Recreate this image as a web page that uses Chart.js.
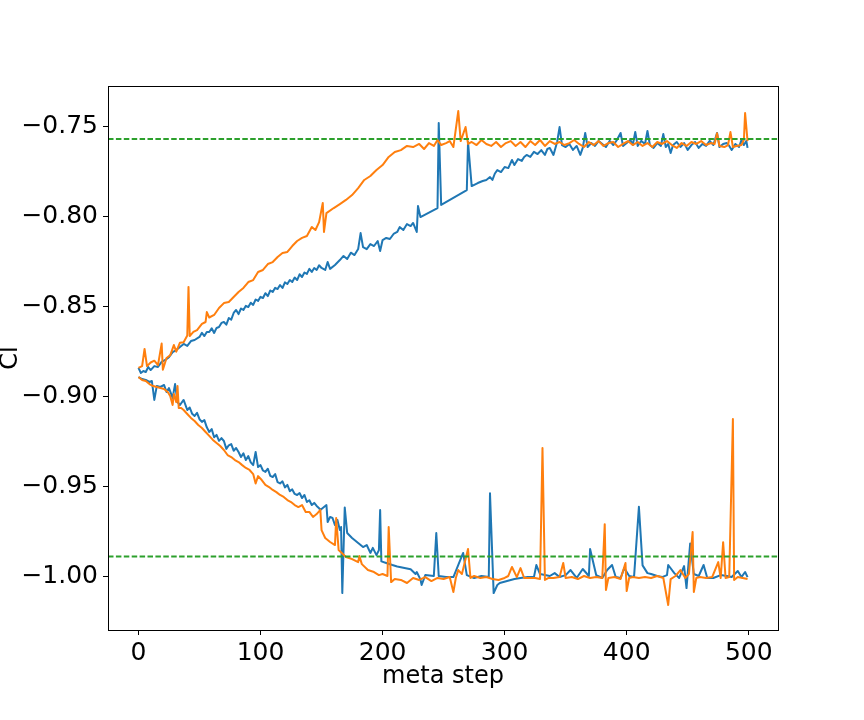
<!DOCTYPE html>
<html>
<head>
<meta charset="utf-8">
<script src="https://cdn.jsdelivr.net/npm/chart.js@4"></script>
<style>
html,body{margin:0;padding:0;background:#fff;}
#wrap{width:864px;height:720px;position:relative;}
</style>
</head>
<body>
<div id="wrap"><canvas id="c" width="864" height="720"></canvas></div>
<script>
// ---- data ----
const xTicks = [0, 100, 200, 300, 400, 500];
const yTicks = [-1.00, -0.95, -0.90, -0.85, -0.80, -0.75];
const refUpper = -0.7569;
const refLower = -0.9888;

const stepsBlueUp = [0,2,4,6,8,10,13,16,19,22,25,28,31,34,37,40,43,46,
  50,52,54,56,58,60,62,64,66,68,70,72,74,76,78,80,82,84,86,88,90,92,94,96,98,
  100,102,104,106,108,110,112,114,116,118,120,122,124,126,128,130,132,134,136,138,140,142,144,146,148,150,
  153,155,157,161,165,168,171,174,177,180,182,184,187,190,193,196,198,200,203,206,209,212,214,217,220,223,225,228,229,231,245,246,248,269,270,273,278,282,285,288,290,292,294,297,300,303,306,308,311,314,316,318,321,324,327,330,333,335,337,340,343,345,347,350,353,356,359,362,364,366,368,371,374,377,380,383,386,389,392,395,397,400,403,405,407,409,412,415,417,419,422,425,428,430,432,434,436,438,441,444,447,450,453,456,459,462,465,468,471,474,476,479,482,484,486,489,492,494,496,498,499];
const blueUp = [-0.8840,-0.8868,-0.8857,-0.8863,-0.8835,-0.8852,-0.8830,-0.8835,-0.8807,-0.8796,-0.8780,-0.8752,-0.8741,-0.8724,-0.8707,-0.8718,-0.8691,-0.8685,
  -0.8668,-0.8645,-0.8663,-0.8640,-0.8641,-0.8620,-0.8646,-0.8618,-0.8613,-0.8590,-0.8585,-0.8600,-0.8563,-0.8572,-0.8535,-0.8518,-0.8541,-0.8510,-0.8518,-0.8495,-0.8502,-0.8478,-0.8490,-0.8460,-0.8468,
  -0.8445,-0.8452,-0.8425,-0.8441,-0.8410,-0.8418,-0.8395,-0.8402,-0.8380,-0.8396,-0.8365,-0.8374,-0.8352,-0.8363,-0.8338,-0.8352,-0.8320,-0.8335,-0.8310,-0.8318,-0.8290,-0.8307,-0.8285,-0.8296,-0.8270,-0.8285,
  -0.8296,-0.8252,-0.8290,-0.8268,-0.8241,-0.8218,-0.8235,-0.8200,-0.8213,-0.8180,-0.8091,-0.8169,-0.8180,-0.8152,-0.8163,-0.8135,-0.8191,-0.8130,-0.8118,-0.8124,-0.8096,-0.8085,-0.8058,-0.8074,-0.8041,-0.8052,-0.8035,-0.8085,-0.7941,-0.8002,-0.7952,-0.7480,-0.7935,-0.7852,-0.7585,-0.7830,-0.7813,-0.7802,-0.7796,-0.7780,-0.7796,-0.7760,-0.7741,-0.7752,-0.7724,-0.7730,-0.7685,-0.7713,-0.7680,-0.7690,-0.7668,-0.7657,-0.7668,-0.7640,-0.7652,-0.7630,-0.7657,-0.7624,-0.7618,-0.7657,-0.7585,-0.7502,-0.7602,-0.7613,-0.7596,-0.7629,-0.7607,-0.7657,-0.7618,-0.7535,-0.7613,-0.7591,-0.7607,-0.7579,-0.7596,-0.7613,-0.7579,-0.7602,-0.7574,-0.7535,-0.7607,-0.7591,-0.7574,-0.7602,-0.7529,-0.7607,-0.7579,-0.7596,-0.7524,-0.7602,-0.7618,-0.7591,-0.7607,-0.7541,-0.7613,-0.7596,-0.7646,-0.7602,-0.7585,-0.7613,-0.7591,-0.7629,-0.7602,-0.7585,-0.7618,-0.7596,-0.7607,-0.7579,-0.7602,-0.7535,-0.7613,-0.7596,-0.7591,-0.7607,-0.7629,-0.7596,-0.7613,-0.7574,-0.7602,-0.7579,-0.7618];

const stepsOrangeUp = [0,3,5,7,10,13,16,19,20,23,26,29,31,34,37,40,41,42,45,48,52,55,56,58,62,66,70,74,78,82,86,90,94,98,102,106,110,114,118,122,126,130,134,138,142,145,148,151,152,154,160,165,170,175,180,185,190,195,200,205,210,215,220,225,230,234,238,242,245,248,252,255,258,262,264,268,270,273,277,281,285,289,293,297,301,305,309,313,317,321,325,329,333,337,341,345,349,353,357,361,365,369,373,377,381,385,389,393,397,401,405,409,413,417,421,425,429,433,437,441,445,449,453,457,461,465,469,472,474,476,480,483,485,487,490,494,496,497,499];
const orangeUp = [-0.8840,-0.8830,-0.8735,-0.8830,-0.8810,-0.8800,-0.8825,-0.8705,-0.8850,-0.8785,-0.8770,-0.8713,-0.8750,-0.8700,-0.8697,-0.8660,-0.8390,-0.8663,-0.8640,-0.8630,-0.8596,-0.8585,-0.8530,-0.8560,-0.8546,-0.8507,-0.8480,-0.8474,-0.8446,-0.8418,-0.8396,-0.8363,-0.8352,-0.8307,-0.8296,-0.8263,-0.8252,-0.8224,-0.8202,-0.8196,-0.8163,-0.8135,-0.8118,-0.8107,-0.8057,-0.8074,-0.8030,-0.7924,-0.8085,-0.7980,-0.7952,-0.7930,-0.7907,-0.7880,-0.7841,-0.7796,-0.7774,-0.7741,-0.7713,-0.7668,-0.7641,-0.7630,-0.7607,-0.7613,-0.7596,-0.7624,-0.7591,-0.7607,-0.7574,-0.7602,-0.7591,-0.7580,-0.7613,-0.7413,-0.7580,-0.7502,-0.7596,-0.7585,-0.7602,-0.7574,-0.7596,-0.7607,-0.7585,-0.7613,-0.7591,-0.7580,-0.7607,-0.7585,-0.7613,-0.7580,-0.7602,-0.7574,-0.7607,-0.7580,-0.7596,-0.7585,-0.7602,-0.7591,-0.7574,-0.7596,-0.7613,-0.7585,-0.7602,-0.7580,-0.7607,-0.7591,-0.7585,-0.7613,-0.7596,-0.7580,-0.7602,-0.7585,-0.7607,-0.7591,-0.7613,-0.7585,-0.7596,-0.7580,-0.7602,-0.7618,-0.7591,-0.7607,-0.7585,-0.7596,-0.7580,-0.7602,-0.7591,-0.7596,-0.7536,-0.7607,-0.7613,-0.7602,-0.7530,-0.7613,-0.7607,-0.7602,-0.7574,-0.7424,-0.7580];

const stepsBlueLo = [0,3,6,9,11,13,15,18,21,23,25,28,30,32,34,37,
  40,42,44,46,48,50,52,54,56,58,60,62,64,66,68,70,72,74,76,78,80,82,84,86,88,90,92,94,96,98,
  100,102,104,106,108,110,112,114,116,118,120,122,124,126,128,130,132,134,136,138,140,142,144,146,148,149,
  154,155,157,159,161,163,165,166,167,169,171,175,180,184,187,190,192,195,197,198,199,203,208,212,218,223,227,228,231,232,235,242,244,246,252,258,266,269,275,281,287,288,291,294,296,302,308,313,319,324,326,329,333,337,341,345,350,354,359,364,369,370,375,380,384,388,391,395,398,402,406,410,413,417,420,425,429,433,434,439,443,447,449,452,455,459,463,466,471,477,482,486,491,494,497,499];
const blueLo = [-0.8891,-0.8902,-0.8907,-0.8918,-0.8913,-0.9018,-0.8941,-0.8946,-0.8935,-0.8974,-0.8952,-0.9007,-0.8930,-0.9030,-0.9046,-0.9018,
  -0.9074,-0.9060,-0.9095,-0.9107,-0.9090,-0.9125,-0.9140,-0.9130,-0.9170,-0.9196,-0.9180,-0.9225,-0.9212,-0.9245,-0.9230,-0.9246,-0.9290,-0.9270,-0.9263,-0.9300,-0.9285,-0.9307,-0.9335,-0.9315,-0.9352,-0.9330,-0.9365,-0.9380,-0.9307,-0.9391,
  -0.9380,-0.9410,-0.9418,-0.9400,-0.9440,-0.9446,-0.9430,-0.9475,-0.9482,-0.9470,-0.9504,-0.9490,-0.9525,-0.9515,-0.9540,-0.9546,-0.9535,-0.9563,-0.9546,-0.9585,-0.9575,-0.9602,-0.9590,-0.9607,-0.9620,-0.9629,
  -0.9602,-0.9696,-0.9668,-0.9674,-0.9713,-0.9685,-0.9741,-0.9724,-1.0091,-0.9615,-0.9757,-0.9785,-0.9813,-0.9835,-0.9824,-0.9868,-0.9840,-0.9880,-0.9852,-0.9630,-0.9915,-0.9924,-0.9935,-0.9943,-0.9952,-0.9959,-0.9985,-0.9974,-1.0015,-1.0046,-0.9991,-0.9996,-0.9757,-0.9996,-1.0002,-1.0002,-0.9868,-0.9991,-1.0007,-0.9996,-1.0002,-0.9537,-1.0091,-1.0046,-1.0035,-1.0024,-1.0013,-1.0007,-1.0002,-1.0002,-0.9935,-0.9985,-0.9991,-0.9996,-0.9980,-1.0002,-0.9991,-0.9963,-1.0007,-0.9957,-0.9996,-0.9846,-0.9991,-1.0007,-0.9963,-0.9935,-1.0002,-1.0007,-0.9952,-0.9996,-1.0002,-0.9612,-0.9937,-0.9980,-0.9985,-0.9996,-1.0002,-0.9991,-0.9935,-0.9980,-1.0007,-0.9941,-1.0063,-0.9815,-0.9985,-0.9996,-0.9935,-1.0007,-1.0007,-0.9991,-0.9996,-1.0002,-0.9968,-1.0002,-0.9974,-1.0002];

const stepsOrangeLo = [0,3,6,9,12,15,18,21,24,26,28,29,31,32,33,35,37,40,43,46,49,52,55,58,61,64,67,70,73,76,79,82,85,88,91,94,96,98,101,104,107,110,113,116,119,122,125,128,131,134,137,140,143,146,149,150,153,157,161,162,164,170,175,180,181,183,188,193,197,200,204,205,207,210,215,220,225,230,235,240,245,250,255,258,260,262,265,270,272,275,280,285,290,295,300,303,306,310,313,316,320,325,329,331,333,336,340,345,348,350,355,360,365,370,375,380,382,383,385,390,395,399,400,402,405,410,415,420,425,430,434,436,440,444,448,451,454,455,457,460,465,470,475,477,479,481,484,487,488,491,495,499];
const orangeLo = [-0.8891,-0.8907,-0.8913,-0.8930,-0.8941,-0.8946,-0.8952,-0.8957,-0.8974,-0.8996,-0.9046,-0.8985,-0.9030,-0.8941,-0.9063,-0.9063,-0.9074,-0.9096,-0.9118,-0.9135,-0.9157,-0.9174,-0.9196,-0.9218,-0.9240,-0.9257,-0.9274,-0.9296,-0.9324,-0.9335,-0.9352,-0.9363,-0.9380,-0.9396,-0.9407,-0.9430,-0.9482,-0.9441,-0.9463,-0.9490,-0.9502,-0.9518,-0.9530,-0.9546,-0.9557,-0.9574,-0.9585,-0.9602,-0.9613,-0.9602,-0.9640,-0.9640,-0.9668,-0.9652,-0.9629,-0.9741,-0.9785,-0.9807,-0.9824,-0.9674,-0.9852,-0.9891,-0.9902,-0.9919,-0.9885,-0.9930,-0.9963,-0.9974,-0.9991,-0.9985,-0.9996,-0.9724,-1.0030,-1.0013,-1.0018,-1.0035,-1.0007,-1.0018,-1.0002,-1.0024,-1.0007,-1.0013,-1.0002,-1.0085,-1.0007,-0.9963,-0.9985,-0.9846,-1.0007,-0.9996,-1.0007,-1.0002,-1.0013,-1.0018,-1.0007,-0.9996,-0.9946,-1.0002,-0.9952,-1.0007,-1.0007,-1.0007,-1.0013,-0.9285,-1.0018,-1.0007,-1.0007,-1.0002,-0.9924,-1.0007,-1.0002,-1.0013,-0.9996,-1.0007,-1.0002,-1.0007,-0.9708,-1.0074,-1.0007,-1.0002,-1.0013,-0.9924,-1.0080,-1.0007,-1.0002,-1.0007,-1.0002,-1.0007,-0.9996,-1.0007,-1.0157,-1.0013,-0.9996,-0.9963,-1.0007,-0.9985,-0.9752,-1.0085,-1.0007,-1.0002,-1.0007,-1.0002,-0.9919,-1.0007,-0.9808,-1.0007,-1.0002,-0.9124,-1.0018,-1.0002,-1.0007,-1.0013];

// ---- helpers ----
const XMIN = -24.95, XMAX = 523.95, YMIN = -1.0296, YMAX = -0.7274;
const pts = (xs, ys) => xs.map((x, i) => ({x: x, y: ys[i]}));
const minus = s => s.replace('-', '\u2212');
const FONT = 'DejaVu Sans';
const BLUE = '#1f77b4', ORANGE = '#ff7f0e', GREEN = '#2ca02c';

const line = (data, color, extra) => Object.assign({
  data: data, borderColor: color, backgroundColor: color, borderWidth: 2,
  pointRadius: 0, tension: 0, fill: false, borderJoinStyle: 'round', borderCapStyle: 'butt'
}, extra || {});

const frame = {
  id: 'frame',
  afterDatasetsDraw(chart) {
    const {ctx, chartArea: a} = chart;
    ctx.save();
    ctx.strokeStyle = '#000';
    ctx.lineWidth = 1;
    ctx.strokeRect(Math.round(a.left) + 0.5, Math.round(a.top) + 0.5, Math.round(a.right - a.left), Math.round(a.bottom - a.top));
    ctx.restore();
  }
};

new Chart(document.getElementById('c'), {
  type: 'line',
  data: {
    datasets: [
      line([{x: XMIN, y: refUpper}, {x: XMAX, y: refUpper}], GREEN, {borderDash: [5.5, 2.4], borderWidth: 2}),
      line([{x: XMIN, y: refLower}, {x: XMAX, y: refLower}], GREEN, {borderDash: [5.5, 2.4], borderWidth: 2}),
      line(pts(stepsOrangeLo, orangeLo), ORANGE),
      line(pts(stepsBlueLo, blueLo), BLUE),
      line(pts(stepsOrangeUp, orangeUp), ORANGE),
      line(pts(stepsBlueUp, blueUp), BLUE)
    ]
  },
  options: {
    responsive: false,
    animation: false,
    events: [],
    layout: {padding: {top: 86, right: 86, left: 0, bottom: 0}},
    plugins: {legend: {display: false}, tooltip: {enabled: false}},
    scales: {
      x: {
        type: 'linear', min: XMIN, max: XMAX,
        afterFit(s) { s.height = 90; },
        afterBuildTicks(s) { s.ticks = xTicks.map(v => ({value: v})); },
        grid: {drawOnChartArea: false, drawTicks: true, tickLength: 5, color: '#000', tickWidth: 1},
        border: {display: true, color: '#000', width: 1},
        ticks: {color: '#000', font: {family: FONT, size: 25}, padding: 3, maxRotation: 0,
                callback: v => minus(String(v))},
        title: {display: true, text: 'meta step', color: '#000', font: {family: FONT, size: 24},
                padding: {top: 0, bottom: 29}}
      },
      y: {
        type: 'linear', min: YMIN, max: YMAX,
        afterFit(s) { s.width = 108; },
        afterBuildTicks(s) { s.ticks = yTicks.map(v => ({value: v})); },
        grid: {drawOnChartArea: false, drawTicks: true, tickLength: 5, color: '#000', tickWidth: 1},
        border: {display: true, color: '#000', width: 1},
        ticks: {color: '#000', font: {family: FONT, size: 25}, padding: 5,
                callback: v => minus(Number(v).toFixed(2))},
        title: {display: true, text: 'Cl', color: '#000', font: {family: FONT, size: 24},
                padding: {top: -4, bottom: 0}}
      }
    }
  },
  plugins: [frame]
});
</script>
</body>
</html>
